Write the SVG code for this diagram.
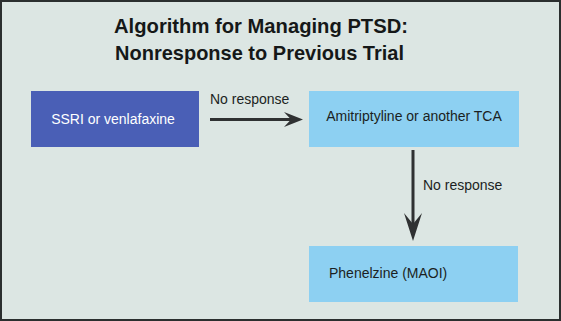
<svg xmlns="http://www.w3.org/2000/svg" width="561" height="321" viewBox="0 0 561 321">
<style>
.title{font-family:"Liberation Sans",Arial,sans-serif;font-weight:bold;font-size:21px;fill:#151818;text-anchor:middle}
.lbl{font-family:"Liberation Sans",Arial,sans-serif;font-size:14px;fill:#1b1f22}
.light{fill:#8dd0f2}
.shaft{stroke:#2f3132;stroke-width:3;fill:none}
.head{fill:#2f3132}
</style>
<rect x="1" y="1" width="559" height="319" fill="#dce6e3" stroke="#2b2f2f" stroke-width="2"/>
<g id="title">
<text class="title" x="261" y="33" textLength="294" lengthAdjust="spacingAndGlyphs">Algorithm for Managing PTSD:</text>
<text class="title" x="259.5" y="60" textLength="289" lengthAdjust="spacingAndGlyphs">Nonresponse to Previous Trial</text>
</g>
<g id="ssri">
<rect x="31" y="91" width="168" height="56" fill="#4a5fb6"/>
<text class="lbl" x="113" y="124" text-anchor="middle" style="fill:#ffffff">SSRI or venlafaxine</text>
</g>
<g id="tca">
<rect class="light" x="309" y="91" width="210" height="56"/>
<text class="lbl" x="414" y="121" text-anchor="middle">Amitriptyline or another TCA</text>
</g>
<g id="maoi">
<rect class="light" x="309" y="246" width="209" height="56"/>
<text class="lbl" x="329" y="278">Phenelzine (MAOI)</text>
</g>
<g id="connectors">
<line class="shaft" x1="210" y1="119.5" x2="292" y2="119.5"/>
<path class="head" d="M303,119.5 L284,112 L291,119.5 L284,127 Z"/>
<text class="lbl" x="210" y="104">No response</text>
<line class="shaft" x1="413" y1="150" x2="413" y2="226"/>
<path class="head" d="M413,241 L404,213 L413,224 L422,213 Z"/>
<text class="lbl" x="423" y="190">No response</text>
</g>
</svg>
